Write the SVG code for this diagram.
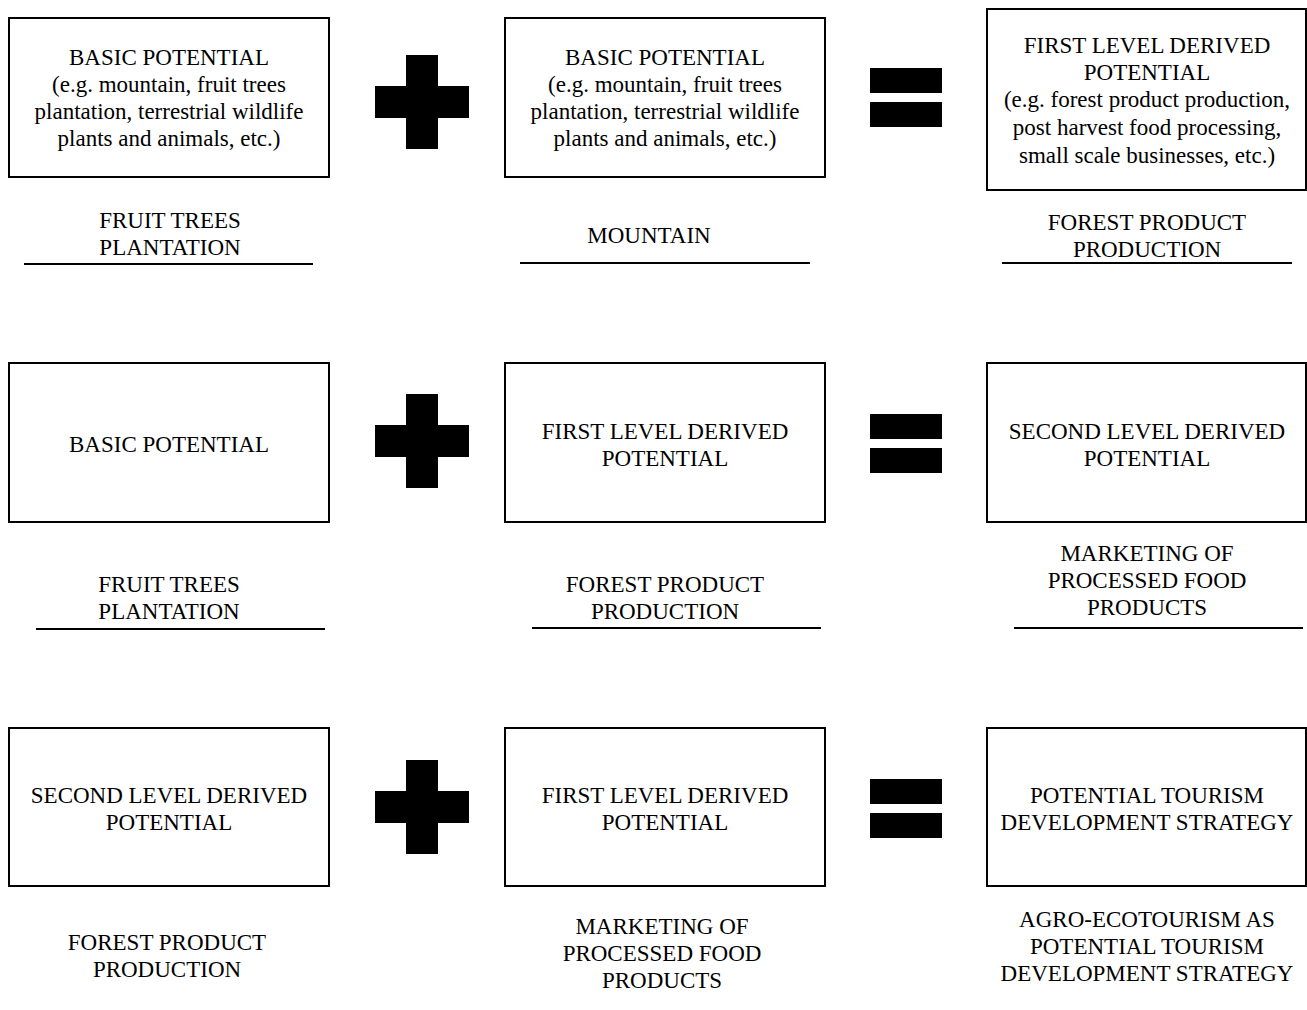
<svg xmlns="http://www.w3.org/2000/svg" width="1307" height="1010" viewBox="0 0 1307 1010">
<style>
.box{fill:#fff;stroke:#000;stroke-width:2}
.t{font-family:"Liberation Serif","Times New Roman",serif;font-size:23px;fill:#000;text-anchor:middle}
.ul{stroke:#000;stroke-width:2}
.sym{fill:#000}
</style>
<rect width="1307" height="1010" fill="#fff"/>
<defs>
<g id="plus"><rect x="406" y="0" width="32" height="94"/><rect x="375" y="31" width="94" height="32"/></g>
<g id="eq"><rect x="870" y="0" width="72" height="25"/><rect x="870" y="34" width="72" height="25"/></g>
</defs>

<!-- Row 1 -->
<g id="r1-basic1">
<rect class="box" x="9" y="18" width="320" height="159"/>
<text class="t" x="169" y="65">BASIC POTENTIAL</text>
<text class="t" x="169" y="92">(e.g. mountain, fruit trees</text>
<text class="t" x="169" y="119">plantation, terrestrial wildlife</text>
<text class="t" x="169" y="146">plants and animals, etc.)</text>
</g>
<g id="r1-plus" class="sym"><use href="#plus" y="55"/></g>
<g id="r1-basic2">
<rect class="box" x="505" y="18" width="320" height="159"/>
<text class="t" x="665" y="65">BASIC POTENTIAL</text>
<text class="t" x="665" y="92">(e.g. mountain, fruit trees</text>
<text class="t" x="665" y="119">plantation, terrestrial wildlife</text>
<text class="t" x="665" y="146">plants and animals, etc.)</text>
</g>
<g id="r1-eq" class="sym"><use href="#eq" y="68"/></g>
<g id="r1-first">
<rect class="box" x="987" y="9" width="319" height="181"/>
<text class="t" x="1147" y="53">FIRST LEVEL DERIVED</text>
<text class="t" x="1147" y="80">POTENTIAL</text>
<text class="t" x="1147" y="107">(e.g. forest product production,</text>
<text class="t" x="1147" y="135">post harvest food processing,</text>
<text class="t" x="1147" y="163">small scale businesses, etc.)</text>
</g>
<g id="r1-lab1"><text class="t" x="170" y="228">FRUIT TREES</text><text class="t" x="170" y="255">PLANTATION</text><line class="ul" x1="24" y1="264" x2="313" y2="264"/></g>
<g id="r1-lab2"><text class="t" x="649" y="243">MOUNTAIN</text><line class="ul" x1="520" y1="263" x2="810" y2="263"/></g>
<g id="r1-lab3"><text class="t" x="1147" y="230">FOREST PRODUCT</text><text class="t" x="1147" y="257">PRODUCTION</text><line class="ul" x1="1002" y1="263" x2="1292" y2="263"/></g>

<!-- Row 2 -->
<g id="r2-basic">
<rect class="box" x="9" y="363" width="320" height="159"/>
<text class="t" x="169" y="452">BASIC POTENTIAL</text>
</g>
<g id="r2-plus" class="sym"><use href="#plus" y="394"/></g>
<g id="r2-first">
<rect class="box" x="505" y="363" width="320" height="159"/>
<text class="t" x="665" y="439">FIRST LEVEL DERIVED</text>
<text class="t" x="665" y="466">POTENTIAL</text>
</g>
<g id="r2-eq" class="sym"><use href="#eq" y="414"/></g>
<g id="r2-second">
<rect class="box" x="987" y="363" width="319" height="159"/>
<text class="t" x="1147" y="439">SECOND LEVEL DERIVED</text>
<text class="t" x="1147" y="466">POTENTIAL</text>
</g>
<g id="r2-lab1"><text class="t" x="169" y="592">FRUIT TREES</text><text class="t" x="169" y="619">PLANTATION</text><line class="ul" x1="36" y1="629" x2="325" y2="629"/></g>
<g id="r2-lab2"><text class="t" x="665" y="592">FOREST PRODUCT</text><text class="t" x="665" y="619">PRODUCTION</text><line class="ul" x1="532" y1="628" x2="821" y2="628"/></g>
<g id="r2-lab3"><text class="t" x="1147" y="561">MARKETING OF</text><text class="t" x="1147" y="588">PROCESSED FOOD</text><text class="t" x="1147" y="615">PRODUCTS</text><line class="ul" x1="1014" y1="628" x2="1303" y2="628"/></g>

<!-- Row 3 -->
<g id="r3-second">
<rect class="box" x="9" y="728" width="320" height="158"/>
<text class="t" x="169" y="803">SECOND LEVEL DERIVED</text>
<text class="t" x="169" y="830">POTENTIAL</text>
</g>
<g id="r3-plus" class="sym"><use href="#plus" y="760"/></g>
<g id="r3-first">
<rect class="box" x="505" y="728" width="320" height="158"/>
<text class="t" x="665" y="803">FIRST LEVEL DERIVED</text>
<text class="t" x="665" y="830">POTENTIAL</text>
</g>
<g id="r3-eq" class="sym"><use href="#eq" y="779"/></g>
<g id="r3-strategy">
<rect class="box" x="987" y="728" width="319" height="158"/>
<text class="t" x="1147" y="803">POTENTIAL TOURISM</text>
<text class="t" x="1147" y="830">DEVELOPMENT STRATEGY</text>
</g>
<g id="r3-lab1"><text class="t" x="167" y="950">FOREST PRODUCT</text><text class="t" x="167" y="977">PRODUCTION</text></g>
<g id="r3-lab2"><text class="t" x="662" y="934">MARKETING OF</text><text class="t" x="662" y="961">PROCESSED FOOD</text><text class="t" x="662" y="988">PRODUCTS</text></g>
<g id="r3-lab3"><text class="t" x="1147" y="927">AGRO-ECOTOURISM AS</text><text class="t" x="1147" y="954">POTENTIAL TOURISM</text><text class="t" x="1147" y="981">DEVELOPMENT STRATEGY</text></g>
<g id="connectors"/>
</svg>
